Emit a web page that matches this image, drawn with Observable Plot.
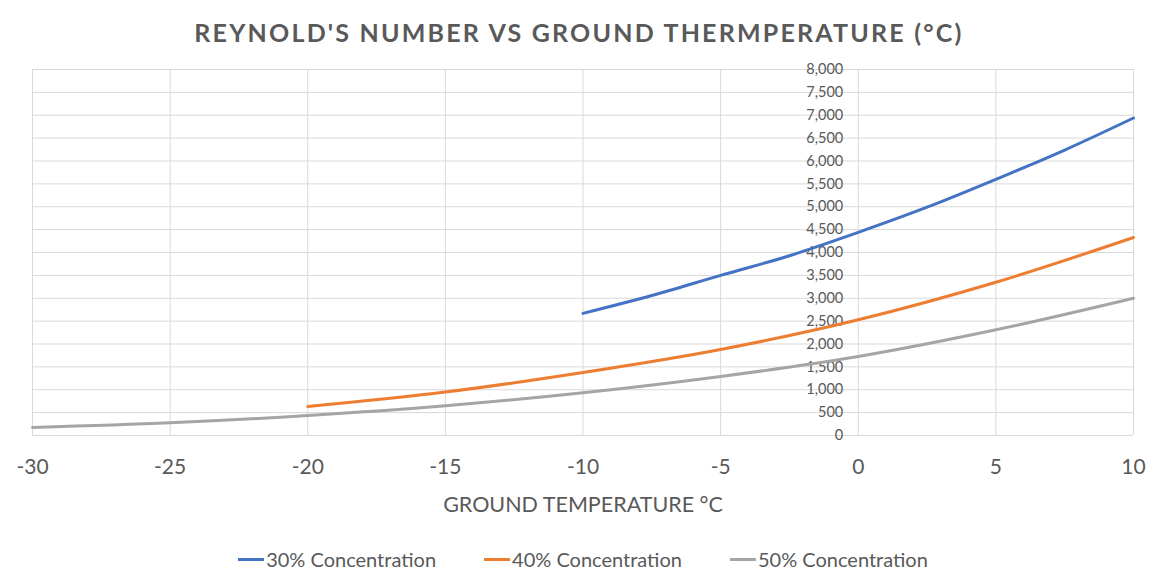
<!DOCTYPE html>
<html>
<head>
<meta charset="utf-8">
<script src="https://cdn.jsdelivr.net/npm/d3@7"></script>
<script src="https://cdn.jsdelivr.net/npm/@observablehq/plot@0.6"></script>
<style>
  body { margin: 0; background: #fff; font-family: Lato, "Open Sans", sans-serif; }
  #title { height: 60px; display: flex; align-items: center; justify-content: center; padding-top: 4px; box-sizing: border-box;
    font-size: 25px; font-weight: bold; color: #595959; letter-spacing: 2.2px; }
  #legend { height: 48px; display: flex; align-items: center; justify-content: center; font-size: 20px; color: #595959; padding-top: 10px; box-sizing: border-box; padding-left: 8px; }
  .item { display: flex; align-items: center; margin: 0 24px; }
  .sw { width: 26px; height: 3px; margin-right: 2px; }
</style>
</head>
<body>
<div id="title">REYNOLD'S NUMBER VS GROUND THERMPERATURE (°C)</div>
<div id="chart"></div>
<div id="legend"></div>
<script>
const seriesNames = ["30% Concentration", "40% Concentration", "50% Concentration"];
const colors = ["#4472C4", "#ED7D31", "#A5A5A5"];
const temps30 = [-10, -7.5, -5, -2.5, 0, 2.5, 5, 7.5, 10];
const re30 = [2670, 3060, 3500, 3930, 4440, 4990, 5600, 6240, 6940];
const temps40 = [-20, -15, -10, -5, 0, 5, 10];
const re40 = [634, 950, 1377, 1880, 2530, 3350, 4328];
const temps50 = [-30, -25, -20, -15, -10, -5, 0, 5, 10];
const re50 = [175, 277, 437, 650, 933, 1290, 1727, 2310, 3001];
const xTicks = [-30, -25, -20, -15, -10, -5, 0, 5, 10];
const yTicks = d3.range(0, 8001, 500);

const data = [
  ...temps30.map((t, i) => ({t, re: re30[i], s: seriesNames[0]})),
  ...temps40.map((t, i) => ({t, re: re40[i], s: seriesNames[1]})),
  ...temps50.map((t, i) => ({t, re: re50[i], s: seriesNames[2]}))
];

const chart = Plot.plot({
  width: 1158,
  height: 470,
  marginLeft: 32,
  marginRight: 25,
  marginTop: 9,
  marginBottom: 95,
  style: { fontFamily: "Lato, 'Open Sans', sans-serif", color: "#595959", background: "#fff" },
  x: { domain: [-30, 10], ticks: xTicks, label: null },
  y: { domain: [0, 8000], ticks: yTicks, label: null, axis: null },
  color: { domain: seriesNames, range: colors },
  marks: [
    Plot.gridY(yTicks, { stroke: "#d9d9d9", strokeOpacity: 1, strokeWidth: 1 }),
    Plot.gridX(xTicks, { stroke: "#d9d9d9", strokeOpacity: 1, strokeWidth: 1 }),
    Plot.axisX(xTicks, { tickSize: 0, tickPadding: 24, fontSize: 21, fill: "#595959", label: null, tickFormat: d => String(d) }),
    Plot.text(["GROUND TEMPERATURE °C"], { frameAnchor: "bottom", dy: 76, fontSize: 21.5, fill: "#595959" }),
    Plot.text(yTicks, { x: 0, y: d => d, text: d => d3.format(",")(d), textAnchor: "end", dx: -15, fontSize: 14.5, fill: "#595959" }),
    Plot.line(data, { x: "t", y: "re", stroke: "s", z: "s", strokeWidth: 3, curve: "monotone-x" })
  ]
});
document.getElementById("chart").appendChild(chart);

const legend = document.getElementById("legend");
seriesNames.forEach((n, i) => {
  const it = document.createElement("div");
  it.className = "item";
  it.innerHTML = `<span class="sw" style="background:${colors[i]}"></span><span>${n}</span>`;
  legend.appendChild(it);
});
</script>
</body>
</html>
